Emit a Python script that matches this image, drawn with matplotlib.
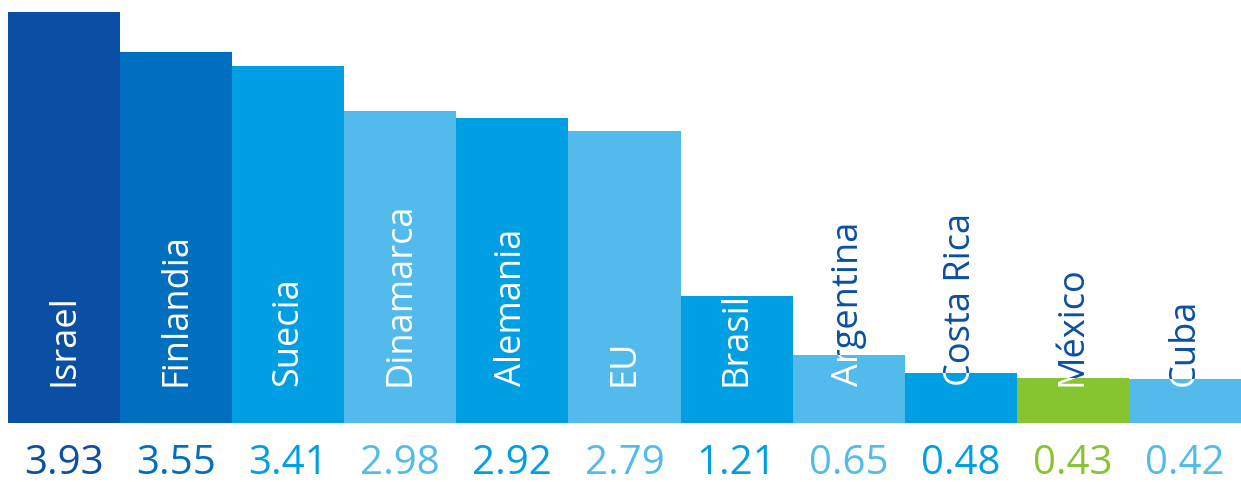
import matplotlib.pyplot as plt
import matplotlib.transforms as mtransforms
from matplotlib.patches import Rectangle

countries = ["Israel", "Finlandia", "Suecia", "Dinamarca", "Alemania", "EU",
             "Brasil", "Argentina", "Costa Rica", "México", "Cuba"]
values = [3.93, 3.55, 3.41, 2.98, 2.92, 2.79, 1.21, 0.65, 0.48, 0.43, 0.42]
colors = ["#0a4fa3", "#006fc0", "#009fe3", "#52bbeb", "#009fe3", "#52bbeb",
          "#009fe3", "#52bbeb", "#009fe3", "#86c430", "#52bbeb"]
label_dark = "#0a4fa3"

plt.rcParams['font.family'] = ['Open Sans', 'DejaVu Sans']

fig = plt.figure(figsize=(12.41, 4.82), dpi=100)
# axes placed so bars run from x=8px to the right edge, baseline at y=423px
ax = fig.add_axes([8 / 1241, (482 - 423) / 482, 1233 / 1241, 411 / 482])

x = list(range(len(values)))
bars = ax.bar(x, values, width=1.0, color=colors, linewidth=0)
ax.set_xlim(-0.5, len(values) - 0.5)
ax.set_ylim(0, max(values))
ax.axis('off')

trans = mtransforms.blended_transform_factory(ax.transData, ax.transAxes)
for i, (name, val, col, bar) in enumerate(zip(countries, values, colors, bars)):
    # area above the bar, where the name is drawn in dark blue
    above = Rectangle((bar.get_x(), val), bar.get_width(), 10,
                      transform=ax.transData)
    for tcol, clip in ((label_dark, above), ("white", bar)):
        t = ax.text(i, 0.09, name, transform=trans, rotation=90,
                    ha='center', va='bottom', fontsize=26, color=tcol,
                    clip_on=True)
        t.set_clip_path(clip)
    ax.text(i, -0.098, f"{val:.2f}", transform=trans, ha='center',
            va='center', fontsize=29, color=col, clip_on=False)

fig.savefig("out.png", dpi=100)
